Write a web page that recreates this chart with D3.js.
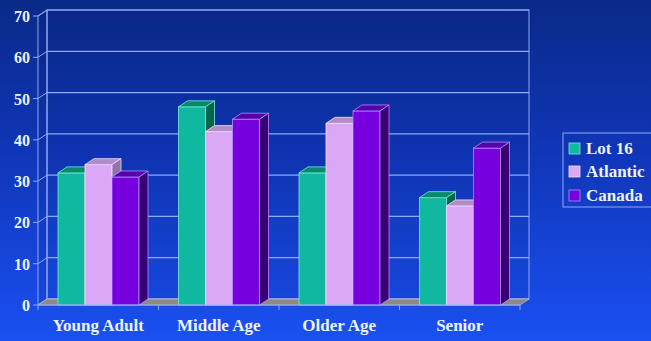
<!DOCTYPE html>
<html>
<head>
<meta charset="utf-8">
<script src="https://cdn.jsdelivr.net/npm/d3@7/dist/d3.min.js"></script>
<style>
html,body{margin:0;padding:0;background:#1238c0;}
svg{display:block;}
</style>
</head>
<body>
<script>
const categories = ["Young Adult", "Middle Age", "Older Age", "Senior"];
const seriesNames = ["Lot 16", "Atlantic", "Canada"];
const lot16 = [32, 48, 32, 26];
const atlantic = [34, 42, 44, 24];
const canada = [31, 45, 47, 38];
const yTicks = [0, 10, 20, 30, 40, 50, 60, 70];

const seriesValues = [lot16, atlantic, canada];
const colors = [
  {front: "#0fb89e", top: "#068a6c", side: "#05664c", edge: "#7fe6d6"},
  {front: "#dba8f6", top: "#b28cc6", side: "#8e74a8", edge: "#f2dcff"},
  {front: "#7700de", top: "#5600ac", side: "#380074", edge: "#b58cff"}
];

const W = 651, H = 341;
const DX = 9, DY = -6;
const svg = d3.select("body").append("svg").attr("width", W).attr("height", H);

const defs = svg.append("defs");
const grad = defs.append("linearGradient").attr("id", "bg").attr("x1", 0).attr("y1", 0).attr("x2", 0).attr("y2", 1);
grad.append("stop").attr("offset", "0%").attr("stop-color", "#0a2988");
grad.append("stop").attr("offset", "45%").attr("stop-color", "#1036b8");
grad.append("stop").attr("offset", "100%").attr("stop-color", "#1a50f2");
svg.append("rect").attr("width", W).attr("height", H).attr("fill", "url(#bg)");

const y = d3.scaleLinear().domain([0, 70]).range([305, 16]);
const x0 = d3.scaleBand().domain(categories).range([38, 520]).padding(0);
const x1 = d3.scaleBand().domain(seriesNames).range([20, 101]).padding(0);

const xL = x0.range()[0], xR = x0.range()[1];
const lineCol = "#8eaaf5";

// back wall outline
svg.append("rect").attr("x", xL + DX).attr("y", y(70) + DY).attr("width", xR - xL).attr("height", y(0) - y(70))
  .attr("fill", "rgba(0,10,60,0.06)").attr("stroke", lineCol).attr("stroke-width", 1);
// left side wall
svg.append("path")
  .attr("d", `M${xL},${y(0)} L${xL + DX},${y(0) + DY} L${xL + DX},${y(70) + DY} L${xL},${y(70)} Z`)
  .attr("fill", "rgba(0,10,60,0.08)").attr("stroke", lineCol).attr("stroke-width", 1);

// gridlines
const g = svg.append("g");
yTicks.forEach(t => {
  g.append("line").attr("x1", xL + DX).attr("x2", xR + DX).attr("y1", y(t) + DY).attr("y2", y(t) + DY)
    .attr("stroke", lineCol).attr("stroke-width", 1.2);
  g.append("line").attr("x1", xL).attr("x2", xL + DX).attr("y1", y(t)).attr("y2", y(t) + DY)
    .attr("stroke", lineCol).attr("stroke-width", 1);
  g.append("line").attr("x1", xL - 5).attr("x2", xL).attr("y1", y(t)).attr("y2", y(t))
    .attr("stroke", lineCol).attr("stroke-width", 1);
});

// y tick labels
svg.append("g").selectAll("text").data(yTicks).join("text")
  .attr("x", 30).attr("y", d => y(d) + 6)
  .attr("text-anchor", "end")
  .attr("font-family", "'Liberation Serif','Times New Roman',serif")
  .attr("font-weight", "bold").attr("font-size", 16).attr("fill", "#eef3ff")
  .text(d => d);

// floor
svg.append("path")
  .attr("d", `M${xL},${y(0)} L${xL + DX},${y(0) + DY} L${xR + DX},${y(0) + DY} L${xR},${y(0)} Z`)
  .attr("fill", "#8f8a8a").attr("stroke", "#b8b4c0").attr("stroke-width", 0.8);

// bars
const bars = svg.append("g");
categories.forEach((c, ci) => {
  seriesNames.forEach((s, si) => {
    const v = seriesValues[si][ci];
    const bx = x0(c) + x1(s), bw = x1.bandwidth();
    const ty = y(v), by = y(0);
    const col = colors[si];
    // front
    bars.append("rect").attr("x", bx).attr("y", ty).attr("width", bw).attr("height", by - ty)
      .attr("fill", col.front).attr("stroke", col.edge).attr("stroke-width", 0.8);
    // top
    bars.append("path")
      .attr("d", `M${bx},${ty} L${bx + DX},${ty + DY} L${bx + bw + DX},${ty + DY} L${bx + bw},${ty} Z`)
      .attr("fill", col.top).attr("stroke", col.edge).attr("stroke-width", 0.8);
    // side
    bars.append("path")
      .attr("d", `M${bx + bw},${ty} L${bx + bw + DX},${ty + DY} L${bx + bw + DX},${by + DY} L${bx + bw},${by} Z`)
      .attr("fill", col.side).attr("stroke", col.edge).attr("stroke-width", 0.8);
  });
});

// x axis line and ticks
svg.append("line").attr("x1", xL).attr("x2", xR).attr("y1", y(0)).attr("y2", y(0))
  .attr("stroke", lineCol).attr("stroke-width", 1);
const tickXs = categories.map(c => x0(c)).concat([xR]);
svg.append("g").selectAll("line").data(tickXs).join("line")
  .attr("x1", d => d).attr("x2", d => d).attr("y1", y(0)).attr("y2", y(0) + 5)
  .attr("stroke", lineCol).attr("stroke-width", 1);

// category labels
svg.append("g").selectAll("text").data(categories).join("text")
  .attr("x", d => x0(d) + x0.bandwidth() / 2).attr("y", 331)
  .attr("text-anchor", "middle")
  .attr("font-family", "'Liberation Serif','Times New Roman',serif")
  .attr("font-weight", "bold").attr("font-size", 17).attr("fill", "#eef3ff")
  .text(d => d);

// legend
const lg = svg.append("g");
lg.append("rect").attr("x", 563).attr("y", 133).attr("width", 100).attr("height", 74)
  .attr("fill", "none").attr("stroke", lineCol).attr("stroke-width", 1);
const legY = [154, 177, 201];
seriesNames.forEach((s, i) => {
  lg.append("rect").attr("x", 569).attr("y", legY[i] - 11).attr("width", 11).attr("height", 11)
    .attr("fill", colors[i].front).attr("stroke", colors[i].edge).attr("stroke-width", 0.8);
  lg.append("text").attr("x", 586).attr("y", legY[i])
    .attr("font-family", "'Liberation Serif','Times New Roman',serif")
    .attr("font-weight", "bold").attr("font-size", 17).attr("fill", "#eef3ff")
    .text(s);
});
</script>
</body>
</html>
